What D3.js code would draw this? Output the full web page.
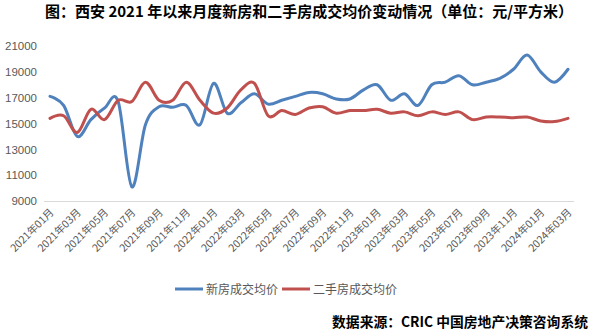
<!DOCTYPE html>
<html>
<head>
<meta charset="utf-8">
<script src="https://cdn.jsdelivr.net/npm/d3@7"></script>
<style>
  html, body { margin: 0; padding: 0; background: #fff; }
  svg { display: block; }
</style>
</head>
<body>
<svg id="chart" width="598" height="335"></svg>
<script>
// Monthly categories, Jan 2021 – Mar 2024
const months = [
  "2021年01月","2021年02月","2021年03月","2021年04月","2021年05月","2021年06月",
  "2021年07月","2021年08月","2021年09月","2021年10月","2021年11月","2021年12月",
  "2022年01月","2022年02月","2022年03月","2022年04月","2022年05月","2022年06月",
  "2022年07月","2022年08月","2022年09月","2022年10月","2022年11月","2022年12月",
  "2023年01月","2023年02月","2023年03月","2023年04月","2023年05月","2023年06月",
  "2023年07月","2023年08月","2023年09月","2023年10月","2023年11月","2023年12月",
  "2024年01月","2024年02月","2024年03月"
];

// New-home average transaction price (元/平方米)
const newHome = [
  17100, 16400, 14000, 15300, 16200, 16700, 10100, 14900, 16300, 16250,
  16400, 14900, 18100, 15800, 16600, 17300, 16500, 16800, 17100, 17400,
  17300, 16900, 16900, 17600, 18000, 16800, 17300, 16400, 18000, 18200,
  18700, 18000, 18200, 18500, 19200, 20300, 19000, 18200, 19200
];

// Second-hand home average transaction price (元/平方米)
const secondHand = [
  15400, 15600, 14300, 16100, 15300, 16800, 16700, 18200, 16800, 16800,
  18200, 16800, 15800, 16200, 17600, 18100, 15600, 16000, 15700, 16200,
  16300, 15800, 16000, 16000, 16100, 15800, 15900, 15600, 15900, 15700,
  15900, 15300, 15500, 15500, 15450, 15500, 15200, 15150, 15400
];

const yTicks = [9000, 11000, 13000, 15000, 17000, 19000, 21000];
const seriesNames = ["新房成交均价", "二手房成交均价"];
const seriesColors = ["#4F81BD", "#C0504D"];

const svg = d3.select("#chart");

const x = d3.scalePoint()
  .domain(months)
  .range([50, 568]);

const y = d3.scaleLinear()
  .domain([9000, 21000])
  .range([201, 46]);

const fontCJK = "'Noto Sans CJK SC', 'Noto Sans', sans-serif";

// Title
svg.append("text")
  .attr("x", 309)
  .attr("y", 17)
  .attr("text-anchor", "middle")
  .attr("font-family", fontCJK)
  .attr("font-size", 15)
  .attr("font-weight", "bold")
  .attr("fill", "#000")
  .text("图：西安 2021 年以来月度新房和二手房成交均价变动情况（单位：元/平方米）");

// Y axis labels (no axis line, no gridlines)
const yAxis = d3.axisLeft(y).tickValues(yTicks).tickSize(0).tickPadding(0).tickFormat(d3.format("d"));
const gy = svg.append("g").attr("transform", "translate(37,0)").call(yAxis);
gy.select(".domain").remove();
gy.selectAll("text")
  .attr("font-family", "'Liberation Sans', Arial, sans-serif")
  .attr("font-size", 11.5)
  .attr("fill", "#595959");

// X axis baseline and labels
const xAxis = d3.axisBottom(x)
  .tickValues(months.filter((d, i) => i % 2 === 0))
  .tickSize(0)
  .tickPadding(0);
const gx = svg.append("g").attr("transform", "translate(0,201)").call(xAxis);
gx.select(".domain")
  .attr("d", "M44,0.5H574")
  .attr("stroke", "#d9d9d9")
  .attr("stroke-width", 1);
gx.selectAll("text")
  .attr("font-family", fontCJK)
  .attr("font-size", 10.5)
  .attr("fill", "#595959")
  .attr("text-anchor", "end")
  .attr("dy", 0)
  .attr("transform", "translate(4,12) rotate(-45)");

// Lines
const line = d3.line()
  .x((d, i) => x(months[i]))
  .y(d => y(d))
  .curve(d3.curveCatmullRom.alpha(0));

[newHome, secondHand].forEach((vals, k) => {
  svg.append("path")
    .datum(vals)
    .attr("d", line)
    .attr("fill", "none")
    .attr("stroke", seriesColors[k])
    .attr("stroke-width", 3)
    .attr("stroke-linejoin", "round")
    .attr("stroke-linecap", "round");
});

// Legend
const legendItems = [
  { x0: 175, tx: 206 },
  { x0: 282, tx: 313 }
];
legendItems.forEach((it, k) => {
  svg.append("line")
    .attr("x1", it.x0).attr("x2", it.x0 + 28)
    .attr("y1", 289).attr("y2", 289)
    .attr("stroke", seriesColors[k])
    .attr("stroke-width", 3);
  svg.append("text")
    .attr("x", it.tx)
    .attr("y", 293.5)
    .attr("font-family", fontCJK)
    .attr("font-size", 12)
    .attr("fill", "#595959")
    .text(seriesNames[k]);
});

// Source note
svg.append("text")
  .attr("x", 588)
  .attr("y", 327)
  .attr("text-anchor", "end")
  .attr("font-family", fontCJK)
  .attr("font-size", 13.8)
  .attr("font-weight", "bold")
  .attr("fill", "#000")
  .text("数据来源：CRIC 中国房地产决策咨询系统");
</script>
</body>
</html>
